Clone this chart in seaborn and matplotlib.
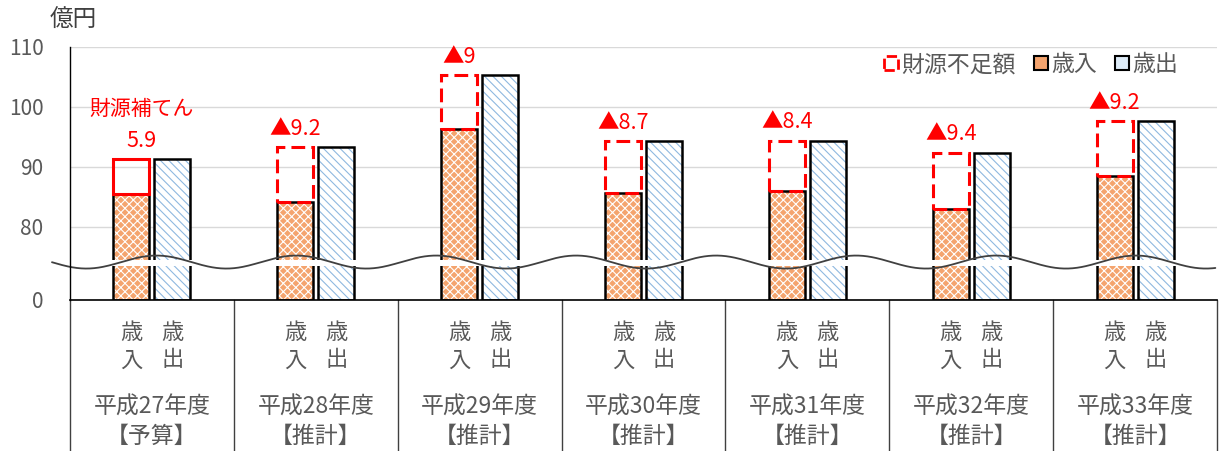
import numpy as np
import pandas as pd
import matplotlib
matplotlib.use('Agg')
import matplotlib.pyplot as plt
import matplotlib.transforms as mtransforms
from matplotlib.patches import Patch, Rectangle
import seaborn as sns

# 年度ごとの値（億円）
years = ['平成27年度', '平成28年度', '平成29年度', '平成30年度',
         '平成31年度', '平成32年度', '平成33年度']
status = ['【予算】', '【推計】', '【推計】', '【推計】', '【推計】', '【推計】', '【推計】']
revenue = [85.4, 84.1, 96.3, 85.6, 86.0, 83.0, 88.4]
expenditure = [91.3, 93.3, 105.3, 94.3, 94.4, 92.4, 97.6]
shortfall = [5.9, 9.2, 9, 8.7, 8.4, 9.4, 9.2]
shortfall_labels = ['5.9', '▲9.2', '▲9', '▲8.7', '▲8.4', '▲9.4', '▲9.2']
ytick_values = [0, 80, 90, 100, 110]

ORANGE = '#F4A46E'
BLUE = '#8FB8E0'
GRAY = '#595959'

sns.set_theme(style='white')
plt.rcParams['font.family'] = ['Noto Sans CJK JP', 'DejaVu Sans']
plt.rcParams['hatch.linewidth'] = 0.8

fig = plt.figure(figsize=(12.21, 4.51), dpi=100)
ax = fig.add_axes([70 / 1221, 151 / 451, 1147 / 1221, 253 / 451])

df = pd.DataFrame({
    'year': years * 2,
    'kind': ['歳入'] * len(years) + ['歳出'] * len(years),
    'value': revenue + expenditure,
})

# 塗り（ハッチ）
sns.barplot(data=df, x='year', y='value', hue='kind', order=years,
            hue_order=['歳入', '歳出'], palette=[ORANGE, 'white'],
            saturation=1, width=0.5, gap=0.12, linewidth=0,
            errorbar=None, legend=False, ax=ax)
for p in ax.containers[0]:
    p.set_hatch('xxxx')
    p.set_edgecolor('white')
for p in ax.containers[1]:
    p.set_hatch('\\\\\\\\')
    p.set_edgecolor(BLUE)

# 枠線
sns.barplot(data=df, x='year', y='value', hue='kind', order=years,
            hue_order=['歳入', '歳出'], palette=['black', 'black'],
            fill=False, width=0.5, gap=0.12, linewidth=1.8,
            errorbar=None, legend=False, ax=ax)

# 縦軸の省略（0〜80を圧縮）
K = 12.2


def fwd(v):
    v = np.asarray(v, dtype=float)
    return np.where(v < 80, v * K / 80, v - 80 + K)


def inv(d):
    d = np.asarray(d, dtype=float)
    return np.where(d < K, d * 80 / K, d + 80 - K)


ax.set_yscale('function', functions=(fwd, inv))
ax.set_ylim(0, 110)
ax.set_xlim(-0.5, len(years) - 0.5)
ax.set_yticks(ytick_values)
ax.set_yticklabels([str(v) for v in ytick_values])
ax.tick_params(axis='y', length=0, pad=19, labelsize=15, labelcolor=GRAY)
ax.tick_params(axis='x', length=0, labelbottom=False)
ax.set_xlabel('')
ax.set_ylabel('')
ax.yaxis.grid(True, color='#D9D9D9', linewidth=1)
ax.set_axisbelow(True)
for s in ['top', 'right']:
    ax.spines[s].set_visible(False)
ax.spines['left'].set_color('black')
ax.spines['left'].set_linewidth(1.0)
ax.spines['left'].set_zorder(6)
ax.spines['bottom'].set_color('black')
ax.spines['bottom'].set_linewidth(1.2)

# 財源不足額の枠
rev_bars = ax.containers[0]
exp_bars = ax.containers[1]
xs = [p.get_x() + p.get_width() / 2 for p in rev_bars]
xe = [p.get_x() + p.get_width() / 2 for p in exp_bars]
w = rev_bars[0].get_width()
for i in range(len(years)):
    ls = '-' if i == 0 else (0, (4.5, 2))
    ax.bar(xs[i], shortfall[i], bottom=revenue[i], width=w, fill=False,
           edgecolor='red', linewidth=2.2, linestyle=ls, zorder=4)
    ax.annotate(shortfall_labels[i], (xs[i], revenue[i] + shortfall[i]),
                xytext=(7 if i == 0 else 0, 13), textcoords='offset points',
                ha='center', va='center', color='red', fontsize=15.5)
ax.annotate('財源補てん', (xs[0], revenue[0] + shortfall[0]),
            xytext=(7, 36), textcoords='offset points',
            ha='center', va='center', color='red', fontsize=15)

# 波線（省略記号）
trans = mtransforms.blended_transform_factory(ax.transData, ax.transAxes)
ax.add_patch(Rectangle((-0.5, 0.136), len(years), 0.022, transform=trans,
                       facecolor='white', edgecolor='none', zorder=3))
wx = np.linspace(-0.61, len(years) - 0.51, 800)
wy = 0.150 - 0.0257 * np.cos(2 * np.pi * (wx + 0.40) / 0.854)
ax.plot(wx, wy, transform=trans, color='#404040', linewidth=1.3,
        clip_on=False, zorder=5)

# 下の区分ラベルと区切り線
for b in np.arange(-0.5, len(years), 1.0):
    ax.plot([b, b], [-0.6, 0], transform=trans, color='#404040',
            linewidth=1, clip_on=False)
for i in range(len(years)):
    for x, a, b in [(xs[i], '歳', '入'), (xe[i], '歳', '出')]:
        ax.text(x, -0.127, a, transform=trans, ha='center', va='center',
                fontsize=16, color=GRAY)
        ax.text(x, -0.237, b, transform=trans, ha='center', va='center',
                fontsize=16, color=GRAY)
    ax.text(i, -0.423, years[i], transform=trans, ha='center', va='center',
            fontsize=16.5, color=GRAY)
    ax.text(i, -0.541, status[i], transform=trans, ha='center', va='center',
            fontsize=16.5, color=GRAY)

# 凡例
handles = [
    Patch(facecolor='white', edgecolor='red', linestyle='--', linewidth=2),
    Patch(facecolor=ORANGE, edgecolor='black', linewidth=1.5),
    Patch(facecolor='#DDEBF7', edgecolor='black', linewidth=1.5),
]
ax.legend(handles, ['財源不足額', '歳入', '歳出'], loc='center right',
          bbox_to_anchor=(0.984, 0.93), ncol=3, frameon=False, fontsize=16.5,
          handlelength=0.6, handleheight=0.6, handletextpad=0.15,
          columnspacing=0.8, labelcolor=GRAY)

fig.text(50 / 1221, 1 - 20 / 451, '億円', fontsize=17, color='#404040',
         va='center')

fig.savefig('out.png', dpi=100)
